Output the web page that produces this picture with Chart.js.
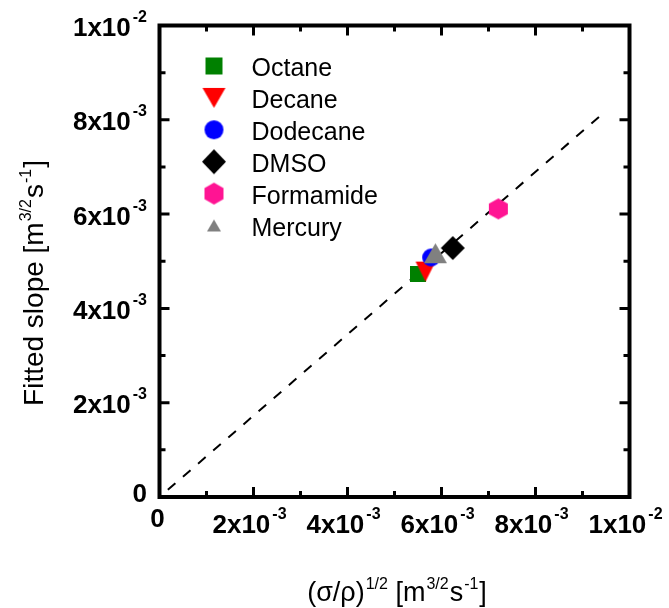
<!DOCTYPE html>
<html>
<head>
<meta charset="utf-8">
<script src="https://cdn.jsdelivr.net/npm/chart.js@4.4.1/dist/chart.umd.min.js"></script>
<style>
html, body { margin: 0; padding: 0; background: #fff; }
</style>
</head>
<body>
<canvas id="plot" width="669" height="608"></canvas>
<script>
// data
const solvents = ["Octane", "Decane", "Dodecane", "DMSO", "Formamide", "Mercury"];
const sqrtSigmaRho = [0.00550, 0.00566, 0.00578, 0.00624, 0.00721, 0.00587];
const fittedSlope = [0.00473, 0.00478, 0.00508, 0.00528, 0.00611, 0.00517];
const fitLineX = [0, 0.00935];
const fitLineY = [0, 0.00806];
const tickValues = [0, 0.002, 0.004, 0.006, 0.008, 0.01];
const tickMantissa = ["0", "2x10", "4x10", "6x10", "8x10", "1x10"];
const tickExponent = ["", "-3", "-3", "-3", "-3", "-2"];

const FONT = "'Liberation Sans', Arial, sans-serif";

// marker looks (data size w/h, legend size lw/lh)
const markerLook = [
    { shape: "square", color: "#008000", w: 16, h: 16, lw: 17, lh: 17 },
    { shape: "triDown", color: "#ff0000", w: 20, h: 20, lw: 23, lh: 20 },
    { shape: "circle", color: "#0000ff", w: 18, h: 18, lw: 19, lh: 19 },
    { shape: "diamond", color: "#000000", w: 24, h: 24, lw: 24, lh: 25 },
    { shape: "hexagon", color: "#ff1493", w: 19, h: 21, lw: 19, lh: 22 },
    { shape: "triUp", color: "#808080", w: 23, h: 20, lw: 14, lh: 12 }
];

function makeMarker(shape, w, h, color) {
    const c = document.createElement("canvas");
    c.width = w + 2;
    c.height = h + 2;
    const g = c.getContext("2d");
    const l = 1, t = 1, r = w + 1, b = h + 1, cx = (w + 2) / 2, cy = (h + 2) / 2;
    g.fillStyle = color;
    g.beginPath();
    if (shape === "square") {
        g.rect(l, t, w, h);
    } else if (shape === "triDown") {
        g.moveTo(l, t); g.lineTo(r, t); g.lineTo(cx, b);
    } else if (shape === "triUp") {
        g.moveTo(cx, t); g.lineTo(r, b); g.lineTo(l, b);
    } else if (shape === "circle") {
        g.ellipse(cx, cy, w / 2, h / 2, 0, 0, Math.PI * 2);
    } else if (shape === "diamond") {
        g.moveTo(cx, t); g.lineTo(r, cy); g.lineTo(cx, b); g.lineTo(l, cy);
    } else if (shape === "hexagon") {
        g.moveTo(cx, t); g.lineTo(r, t + h / 4); g.lineTo(r, t + 3 * h / 4);
        g.lineTo(cx, b); g.lineTo(l, t + 3 * h / 4); g.lineTo(l, t + h / 4);
    }
    g.closePath();
    g.fill();
    return c;
}

const pointImages = markerLook.map(m => makeMarker(m.shape, m.w, m.h, m.color));
const legendImages = markerLook.map(m => makeMarker(m.shape, m.lw, m.lh, m.color));

const datasets = solvents.map(function(name, i) {
    return {
        label: name,
        data: [{ x: sqrtSigmaRho[i], y: fittedSlope[i] }],
        pointStyle: pointImages[i],
        order: 10 - i
    };
});
datasets.push({
    type: "line",
    label: "fit",
    data: fitLineX.map((x, i) => ({ x: x, y: fitLineY[i] })),
    borderColor: "#000",
    borderWidth: 2,
    borderDash: [10, 10],
    borderDashOffset: 9,
    pointRadius: 0,
    fill: false,
    order: 100
});

// superscript helpers
function runsWidth(ctx, runs, size, supSize) {
    let w = 0;
    runs.forEach(function(r) {
        ctx.font = (r.bold ? "bold " : "") + (r.sup ? supSize : size) + "px " + FONT;
        w += ctx.measureText(r.t).width + (r.gap || 0);
    });
    return w;
}

function drawRuns(ctx, runs, x, baseline, size, supSize, raise) {
    ctx.textAlign = "left";
    ctx.textBaseline = "alphabetic";
    runs.forEach(function(r) {
        ctx.font = (r.bold ? "bold " : "") + (r.sup ? supSize : size) + "px " + FONT;
        x += r.gap || 0;
        ctx.fillText(r.t, x, r.sup ? baseline - raise : baseline);
        x += ctx.measureText(r.t).width;
    });
}

function sciRuns(i) {
    const runs = [{ t: tickMantissa[i], bold: true }];
    if (tickExponent[i]) runs.push({ t: tickExponent[i], bold: true, sup: true, gap: 2 });
    return runs;
}

const xTitleRuns = [
    { t: "(\u03c3/\u03c1)" }, { t: "1/2", sup: true, gap: 1 }, { t: " [m" },
    { t: "3/2", sup: true, gap: 1 }, { t: "s", gap: 1 }, { t: "-1", sup: true, gap: 1 }, { t: "]", gap: 1 }
];
const yTitleRuns = [
    { t: "Fitted slope [m" }, { t: "3/2", sup: true, gap: 1 }, { t: "s", gap: 1 },
    { t: "-1", sup: true, gap: 1 }, { t: "]", gap: 1 }
];

const decorations = {
    id: "decorations",
    afterDraw(chart) {
        const ctx = chart.ctx;
        const a = chart.chartArea;
        const xs = chart.scales.x, ys = chart.scales.y;
        ctx.save();
        ctx.strokeStyle = "#000";
        ctx.fillStyle = "#000";

        // frame
        ctx.lineWidth = 4;
        ctx.strokeRect(a.left, a.top, a.right - a.left, a.bottom - a.top);

        // inward ticks on all four sides
        ctx.lineWidth = 3;
        ctx.beginPath();
        for (let v = 0; v <= 10; v++) {
            const val = v / 1000;
            const len = v % 2 === 0 ? 10 : 6;
            const px = xs.getPixelForValue(val);
            const py = ys.getPixelForValue(val);
            ctx.moveTo(px, a.bottom); ctx.lineTo(px, a.bottom - len);
            ctx.moveTo(px, a.top); ctx.lineTo(px, a.top + len);
            ctx.moveTo(a.left, py); ctx.lineTo(a.left + len, py);
            ctx.moveTo(a.right, py); ctx.lineTo(a.right - len, py);
        }
        ctx.stroke();

        // tick labels
        tickValues.forEach(function(val, i) {
            const runs = sciRuns(i);
            const w = runsWidth(ctx, runs, 26, 16);
            const py = ys.getPixelForValue(val);
            const px = xs.getPixelForValue(val);
            if (i === 0) {
                drawRuns(ctx, runs, 147 - w, py + 5, 26, 16, 14);
                drawRuns(ctx, runs, px - 2 - w / 2, 527, 26, 16, 14);
            } else {
                drawRuns(ctx, runs, 147 - w, py + 10.5, 26, 16, 14);
                drawRuns(ctx, runs, px - 4 - w / 2, 533, 26, 16, 14);
            }
        });

        // axis titles
        const xw = runsWidth(ctx, xTitleRuns, 27, 16);
        drawRuns(ctx, xTitleRuns, 397 - xw / 2, 601, 27, 16, 12);

        ctx.save();
        ctx.translate(43, 283);
        ctx.rotate(-Math.PI / 2);
        const yw = runsWidth(ctx, yTitleRuns, 28, 16);
        drawRuns(ctx, yTitleRuns, -yw / 2, 0, 28, 16, 12);
        ctx.restore();

        // legend inside the plot
        solvents.forEach(function(name, i) {
            const cy = 65.5 + i * 31.9;
            const img = legendImages[i];
            ctx.drawImage(img, 214 - img.width / 2, cy + 0.5 - img.height / 2);
            ctx.font = "25px " + FONT;
            ctx.textAlign = "left";
            ctx.textBaseline = "alphabetic";
            ctx.fillText(name, 251.5, cy + 10.5);
        });
        ctx.restore();
    }
};

new Chart(document.getElementById("plot"), {
    type: "scatter",
    data: { datasets: datasets },
    options: {
        responsive: false,
        animation: false,
        devicePixelRatio: 1,
        layout: { padding: { left: 159.5, right: 39.5, top: 25.5, bottom: 111 } },
        plugins: { legend: { display: false }, tooltip: { enabled: false } },
        scales: {
            x: {
                type: "linear", min: 0, max: 0.01,
                ticks: { display: false, stepSize: 0.001 },
                grid: { display: false, drawTicks: false },
                border: { display: false }
            },
            y: {
                type: "linear", min: 0, max: 0.01,
                ticks: { display: false, stepSize: 0.001 },
                grid: { display: false, drawTicks: false },
                border: { display: false }
            }
        }
    },
    plugins: [decorations]
});
</script>
</body>
</html>
